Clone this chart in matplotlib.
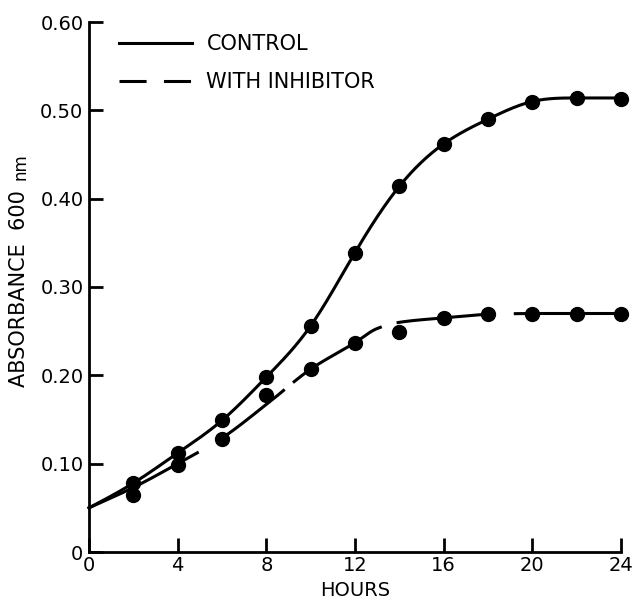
import numpy as np
import matplotlib
matplotlib.use("Agg")
import matplotlib.pyplot as plt
from matplotlib.lines import Line2D


hours = [2, 4, 6, 8, 10, 12, 14, 16, 18, 20, 22, 24]
control = [0.078, 0.112, 0.149, 0.198, 0.256, 0.339, 0.414, 0.462, 0.490, 0.510, 0.514, 0.513]
inhibitor = [0.065, 0.098, 0.128, 0.178, 0.207, 0.237, 0.249, 0.265, 0.269, 0.269, 0.269, 0.269]

# hand drawn fit lines
control_fit_hours = [0, 2, 4, 6, 8, 10, 12, 14, 16, 18, 20, 22, 24]
control_fit = [0.050, 0.078, 0.112, 0.149, 0.198, 0.256, 0.339, 0.414, 0.462, 0.490, 0.510, 0.514, 0.514]
inhibitor_fit_hours = [0, 2, 4, 6, 8, 10, 12, 13, 14, 16, 18, 20, 22, 24]
inhibitor_fit = [0.050, 0.073, 0.100, 0.129, 0.167, 0.207, 0.237, 0.253, 0.260, 0.265, 0.269, 0.270, 0.270, 0.270]

# where the dashed line is broken (hours)
dash_gaps = [(4.9, 5.95), (8.8, 9.25), (13.15, 13.93), (18.0, 19.2)]

x_ticks = [0, 4, 8, 12, 16, 20, 24]
y_ticks = [0, 0.1, 0.2, 0.3, 0.4, 0.5, 0.6]
y_tick_labels = ["0", "0.10", "0.20", "0.30", "0.40", "0.50", "0.60"]


def hermite(xk, yk, m, x):
    h = np.diff(xk)
    idx = np.clip(np.searchsorted(xk, x) - 1, 0, len(h) - 1)
    t = (x - xk[idx]) / h[idx]
    h00 = 2 * t**3 - 3 * t**2 + 1
    h10 = t**3 - 2 * t**2 + t
    h01 = -2 * t**3 + 3 * t**2
    h11 = t**3 - t**2
    return h00 * yk[idx] + h10 * h[idx] * m[idx] + h01 * yk[idx + 1] + h11 * h[idx] * m[idx + 1]


def pchip(xk, yk, x):
    xk = np.asarray(xk, float)
    yk = np.asarray(yk, float)
    h = np.diff(xk)
    d = np.diff(yk) / h
    m = np.zeros_like(yk)
    for i in range(1, len(xk) - 1):
        if d[i - 1] * d[i] > 0:
            w1 = 2 * h[i] + h[i - 1]
            w2 = h[i] + 2 * h[i - 1]
            m[i] = (w1 + w2) / (w1 / d[i - 1] + w2 / d[i])
    m[0] = d[0]
    m[-1] = d[-1]
    return hermite(xk, yk, m, x)


def natural_spline(xk, yk, x):
    xk = np.asarray(xk, float)
    yk = np.asarray(yk, float)
    n = len(xk)
    h = np.diff(xk)
    A = np.zeros((n, n))
    r = np.zeros(n)
    A[0, 0] = 2 * h[0]
    A[0, 1] = h[0]
    r[0] = 3 * (yk[1] - yk[0])
    for i in range(1, n - 1):
        A[i, i - 1] = h[i]
        A[i, i] = 2 * (h[i - 1] + h[i])
        A[i, i + 1] = h[i - 1]
        r[i] = 3 * (h[i] * (yk[i] - yk[i - 1]) / h[i - 1] + h[i - 1] * (yk[i + 1] - yk[i]) / h[i])
    A[-1, -2] = h[-1]
    A[-1, -1] = 2 * h[-1]
    r[-1] = 3 * (yk[-1] - yk[-2])
    A[0] /= h[0]
    r[0] /= h[0]
    A[-1] /= h[-1]
    r[-1] /= h[-1]
    m = np.linalg.solve(A, r)
    return hermite(xk, yk, m, x)


plt.rcParams["font.family"] = "DejaVu Sans"
plt.rcParams["lines.scale_dashes"] = False

fig = plt.figure(figsize=(6.37, 6.03), dpi=100)
ax = fig.add_axes([89 / 637, 1 - 552 / 603, 532 / 637, 530 / 603])

xs = np.linspace(0, 24, 600)
ax.plot(xs, natural_spline(control_fit_hours, control_fit, xs),
        color="black", lw=2.2, clip_on=False)

yi = pchip(inhibitor_fit_hours, inhibitor_fit, xs)
for a, b in dash_gaps:
    yi[(xs > a) & (xs < b)] = np.nan
ax.plot(xs, yi, color="black", lw=2.2, clip_on=False)

ax.plot(hours, control, "o", color="black", ms=10, clip_on=False, zorder=3)
ax.plot(hours, inhibitor, "o", color="black", ms=10, clip_on=False, zorder=3)

ax.set_xlim(0, 24)
ax.set_ylim(0, 0.6)
ax.set_xticks(x_ticks)
ax.set_yticks(y_ticks)
ax.set_yticklabels(y_tick_labels)
ax.spines["top"].set_visible(False)
ax.spines["right"].set_visible(False)
ax.spines["left"].set_linewidth(2)
ax.spines["bottom"].set_linewidth(2)
ax.tick_params(direction="in", length=10, width=2, labelsize=14)
ax.tick_params(axis="x", pad=3)
ax.tick_params(axis="y", pad=4)

ax.set_xlabel("HOURS", fontsize=14, labelpad=4)

ylab = fig.text(19 / 637, 1 - 387 / 603, "ABSORBANCE  600", rotation=90, fontsize=15,
                ha="center", va="bottom")
ax.annotate("nm", xy=(1, 1), xycoords=ylab, xytext=(0, 7), textcoords="offset points",
            rotation=90, fontsize=12, ha="right", va="bottom")

handles = [
    Line2D([], [], color="black", lw=2.2),
    Line2D([], [], color="black", lw=2.2, dashes=(19.5, 12.5)),
]
ax.legend(handles, ["CONTROL", "WITH INHIBITOR"], loc="upper left",
          bbox_to_anchor=(30 / 532, 0.977), frameon=False, fontsize=15,
          handlelength=3.5, handletextpad=0.7, labelspacing=0.85, borderpad=0, borderaxespad=0)

plt.savefig("out.png", dpi=100)
